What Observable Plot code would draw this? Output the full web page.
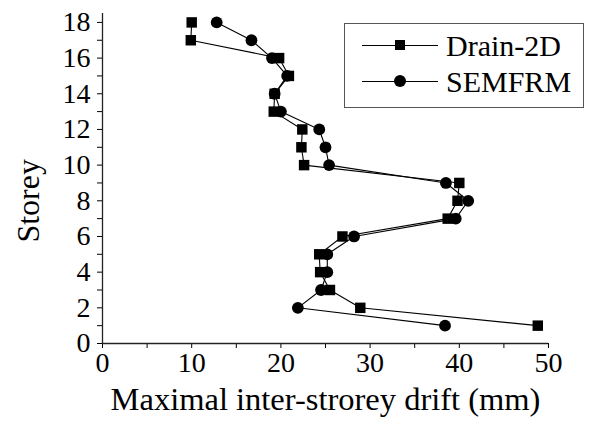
<!DOCTYPE html>
<html><head><meta charset="utf-8">
<script src="https://cdn.jsdelivr.net/npm/d3@7"></script>
<script src="https://cdn.jsdelivr.net/npm/@observablehq/plot@0.6"></script>
<style>
body{margin:0;background:#fff}
#wrap{position:relative;width:589px;height:425px;overflow:hidden}
#wrap > svg{position:absolute;left:0;top:0}
#legend{position:absolute;left:344px;top:23px;width:238px;height:83px;border:1px solid #555;background:#fff;
  font-family:"Liberation Serif","Times New Roman",serif;font-size:30px;color:#000}
#legend .row{position:absolute;left:0;height:30px;width:238px}
#legend .ln{position:absolute;left:17px;width:76px;top:14px;height:0;border-top:1.1px solid #000}
#legend .sq{position:absolute;left:50px;top:9px;width:10px;height:10px;background:#000}
#legend .ci{position:absolute;left:49px;top:8px;width:12px;height:12px;border-radius:50%;background:#000}
#legend .tx{position:absolute;left:101px;top:0;line-height:30px;white-space:nowrap}
</style>
</head><body><div id="wrap"></div>
<script>
const storeys = [1,2,3,4,5,6,7,8,9,10,11,12,13,14,15,16,17,18];
const drain2d = [48.8,28.9,25.5,24.4,24.3,26.9,38.7,39.8,40.0,22.6,22.3,22.4,19.2,19.3,20.9,19.8,9.9,10.0];
const semfrm  = [38.4,21.9,24.5,25.2,25.2,28.2,39.6,41.0,38.5,25.4,25.0,24.3,20.0,19.3,20.7,19.0,16.7,12.8];
const seriesNames = ["Drain-2D","SEMFRM"];
const seriesSymbols = ["sq","ci"];
const xTicks = [0,5,10,15,20,25,30,35,40,45,50];
const yTicks = [0,1,2,3,4,5,6,7,8,9,10,11,12,13,14,15,16,17,18];
const xTitle = "Maximal inter-strorey drift (mm)";
const yTitle = "Storey";

const dData = storeys.map((s,i)=>({storey:s, drift:drain2d[i]}));
const sData = storeys.map((s,i)=>({storey:s, drift:semfrm[i]}));
const FF = "Liberation Serif";

const plot = Plot.plot({
  width: 589, height: 425,
  marginLeft: 102, marginRight: 41, marginTop: 13, marginBottom: 82,
  style: {fontFamily: FF, fontSize: "28px"},
  x: {domain: [0,50]},
  y: {domain: [0,18.5]},
  marks: [
    Plot.axisX({ticks: xTicks, tickFormat: d => d % 10 === 0 ? d : "", tickSize: 5, tickPadding: 4, label: null, fontSize: 28, fontFamily: FF}),
    Plot.axisY({ticks: yTicks, tickFormat: d => d % 2 === 0 ? d : "", tickSize: 5, tickPadding: 7, label: null, fontSize: 28, fontFamily: FF}),
    Plot.ruleY([0], {stroke: "#222", strokeWidth: 1.3}),
    Plot.ruleX([0], {y1: 0, y2: 18.5, stroke: "#222", strokeWidth: 1.3}),
    Plot.line(dData, {x: "drift", y: "storey", stroke: "#000", strokeWidth: 1.1}),
    Plot.line(sData, {x: "drift", y: "storey", stroke: "#000", strokeWidth: 1.1}),
    Plot.dot(dData, {x: "drift", y: "storey", symbol: "square", r: 5.9, fill: "#000"}),
    Plot.dot(sData, {x: "drift", y: "storey", symbol: "circle", r: 5.9, fill: "#000"}),
    Plot.text([xTitle], {x: [25], frameAnchor: "bottom", dy: 66, textAnchor: "middle", lineAnchor: "bottom", fontSize: 32.5, fontFamily: FF, fill: "#000"}),
    Plot.text([yTitle], {y: [8.0], frameAnchor: "left", dx: -64, rotate: -90, textAnchor: "middle", lineAnchor: "bottom", fontSize: 32, fontFamily: FF, fill: "#000"})
  ]
});
const wrap = document.getElementById("wrap");
wrap.appendChild(plot);

// HTML legend overlay
const legend = document.createElement("div");
legend.id = "legend";
seriesNames.forEach((name, i) => {
  const row = document.createElement("div");
  row.className = "row";
  row.style.top = (i === 0 ? 7 : 43) + "px";
  row.innerHTML = `<div class="ln"></div><div class="${seriesSymbols[i]}"></div><div class="tx"></div>`;
  row.querySelector(".tx").textContent = name;
  legend.appendChild(row);
});
wrap.appendChild(legend);
</script>
</body></html>
